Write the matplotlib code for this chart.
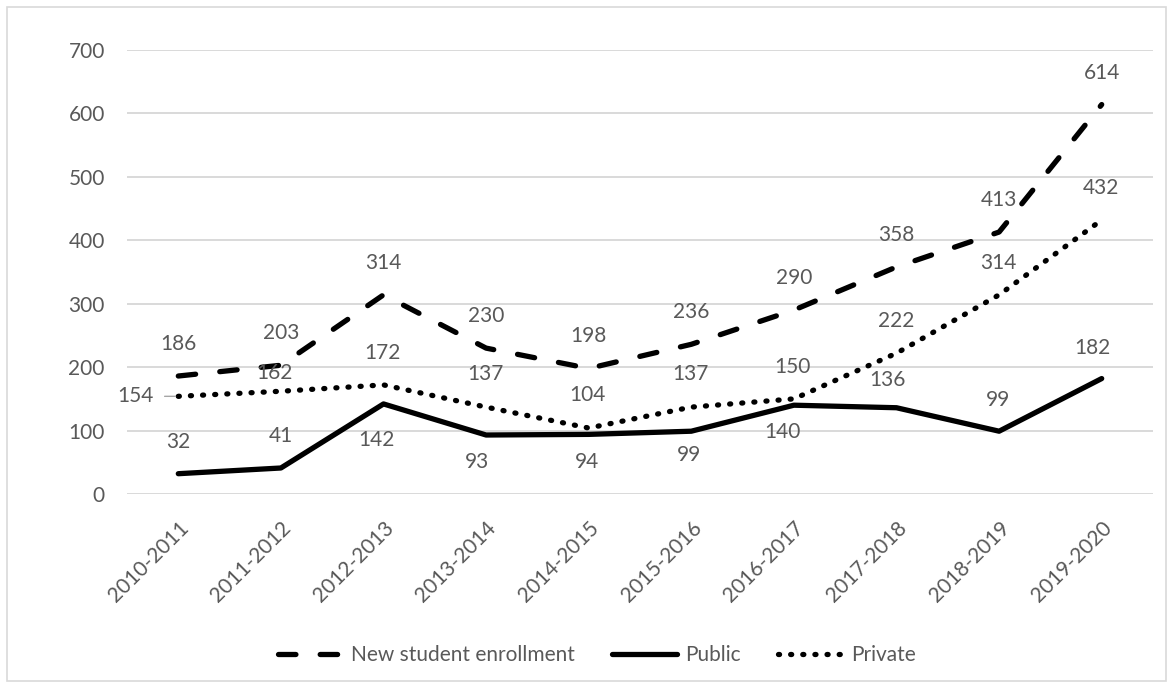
import matplotlib
matplotlib.use("Agg")
import matplotlib.pyplot as plt
from matplotlib.patches import Rectangle

plt.rcParams["font.family"] = ["Lato", "DejaVu Sans"]

YEARS = ["2010-2011", "2011-2012", "2012-2013", "2013-2014", "2014-2015",
         "2015-2016", "2016-2017", "2017-2018", "2018-2019", "2019-2020"]
NEW_ENROLL = [186, 203, 314, 230, 198, 236, 290, 358, 413, 614]
PUBLIC = [32, 41, 142, 93, 94, 99, 140, 136, 99, 182]
PRIVATE = [154, 162, 172, 137, 104, 137, 150, 222, 314, 432]

# data-label offsets in pixels (dx, dy), as placed in the original
OFF_NEW = [(0, 32)] * 10
OFF_PUB = [(0, 32), (0, 32), (-7, -36), (-9, -27), (-2, -28),
           (-2, -24), (-11, -27), (-9, 28), (-1, 31), (-9, 31)]
OFF_PRI = [(-43, 0), (-6, 18), (-1, 32), (-1, 33), (-1, 33),
           (-1, 33), (-1, 32), (0, 32), (-1, 32), (-1, 32)]

W, H, DPI = 1173, 688, 100
TXT = "#595959"
GRID = "#d9d9d9"
FS = 15
LW = 3.8

fig = plt.figure(figsize=(W / DPI, H / DPI), dpi=DPI)
ax = fig.add_axes([127 / W, 1 - 494 / H, (1153 - 127) / W, (494 - 50) / H])

x = list(range(len(YEARS)))
ax.plot(x, NEW_ENROLL, color="black", lw=LW, dashes=(3.3, 4.6),
        dash_capstyle="round", solid_joinstyle="round", label="New student enrollment")
ax.plot(x, PUBLIC, color="black", lw=LW, solid_capstyle="round",
        solid_joinstyle="round", label="Public")
ax.plot(x, PRIVATE, color="black", lw=LW, dashes=(0.2, 2.1),
        dash_capstyle="round", label="Private")

for vals, offs in ((NEW_ENROLL, OFF_NEW), (PUBLIC, OFF_PUB), (PRIVATE, OFF_PRI)):
    for i, (v, (dx, dy)) in enumerate(zip(vals, offs)):
        kw = {}
        if vals is PRIVATE and i == 0:
            kw["arrowprops"] = dict(arrowstyle="-", color="#a6a6a6", lw=1,
                                    shrinkA=6, shrinkB=2)
        ax.annotate(str(v), (i, v), xytext=(dx, dy), textcoords="offset pixels",
                    ha="center", va="center", fontsize=FS, color=TXT, **kw)

ax.set_xlim(-0.5, len(YEARS) - 0.5)
ax.set_ylim(0, 700)
ax.set_yticks(range(0, 701, 100))
ax.set_xticks(x)
ax.set_xticklabels(YEARS, rotation=45, ha="right", va="top", rotation_mode="anchor")
ax.tick_params(axis="both", length=0, labelsize=FS, labelcolor=TXT)
ax.tick_params(axis="y", pad=16)
ax.tick_params(axis="x", pad=17)
ax.grid(axis="y", color=GRID, lw=1.4)
ax.set_axisbelow(True)
for s in ax.spines.values():
    s.set_visible(False)

fig.legend(loc="center", bbox_to_anchor=(597 / W, 1 - 655 / H), ncol=3,
           frameon=False, fontsize=FS, labelcolor=TXT, handlelength=3.1,
           handletextpad=0.4, columnspacing=1.8)

fig.add_artist(Rectangle((7 / W, 7 / H), (1166 - 7) / W, (681 - 7) / H,
                         transform=fig.transFigure, fill=False,
                         edgecolor=GRID, lw=1.2))

fig.savefig("out.png", dpi=DPI)
